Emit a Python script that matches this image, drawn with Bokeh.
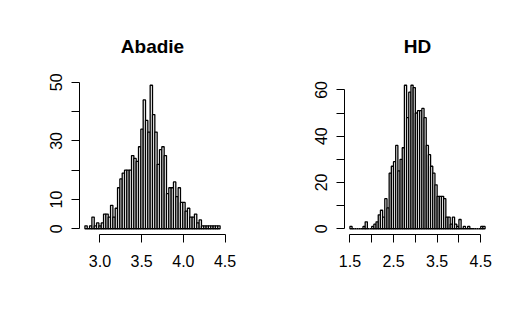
import numpy as np
from bokeh.plotting import figure
from bokeh.layouts import row
from bokeh.models import Range1d, FixedTicker, ColumnDataSource
from bokeh.embed import file_html
from bokeh.resources import INLINE

# ---- data ----
abadie_title = "Abadie"
abadie_lo, abadie_hi = 2.82, 4.44
abadie_counts = [1, 0, 1, 4, 1, 2, 1, 2, 5, 5,
                 4, 8, 4, 7, 14, 17, 19, 20, 20, 20,
                 25, 24, 23, 28, 34, 44, 37, 33, 49, 39,
                 33, 22, 27, 28, 25, 12, 14, 14, 16, 11,
                 14, 9, 9, 6, 7, 4, 4, 5, 2, 3,
                 1, 1, 1, 1, 1, 1, 1, 1]
abadie_xticks = [3.0, 3.5, 4.0, 4.5]
abadie_xlabels = ["3.0", "3.5", "4.0", "4.5"]
abadie_yticks = [0, 10, 20, 30, 40, 50]
abadie_ylabels = ["0", "10", "", "30", "", "50"]

hd_title = "HD"
hd_lo, hd_hi = 1.5, 4.6
hd_counts = [1, 0, 0, 0, 0, 0, 1, 3, 0, 0,
             1, 2, 3, 6, 8, 5, 13, 9, 24, 27,
             29, 36, 25, 30, 35, 62, 48, 59, 62, 61,
             50, 51, 51, 52, 48, 36, 32, 27, 24, 19,
             14, 14, 14, 13, 5, 5, 2, 5, 2, 1,
             4, 0, 1, 0, 1, 0, 0, 0, 0, 0,
             1, 1]
hd_xticks = [1.5, 2.0, 2.5, 3.0, 3.5, 4.0, 4.5]
hd_xlabels = ["1.5", "", "2.5", "", "3.5", "", "4.5"]
hd_yticks = [0, 10, 20, 30, 40, 50, 60]
hd_ylabels = ["0", "", "20", "", "40", "", "60"]

FONT = "Liberation Sans"


def panel(title, lo, hi, counts, xticks, xlabels, yticks, ylabels,
          border_left, border_right):
    counts = np.asarray(counts, dtype=float)
    edges = np.linspace(lo, hi, len(counts) + 1)
    src = ColumnDataSource(dict(left=edges[:-1], right=edges[1:],
                                top=counts, bottom=np.zeros_like(counts)))
    xpad = 0.04 * (hi - lo)
    ymax = counts.max()
    p = figure(frame_width=146, frame_height=155,
               x_range=Range1d(lo - xpad, hi + xpad),
               y_range=Range1d(-0.04 * ymax, 1.04 * ymax),
               output_backend="svg", toolbar_location=None,
               min_border_left=border_left, min_border_right=border_right,
               min_border_top=79, min_border_bottom=82,
               background_fill_color="white", border_fill_color="white")
    p.outline_line_color = None
    p.grid.visible = False
    p.quad(left="left", right="right", top="top", bottom="bottom", source=src,
           fill_color="white", line_color="black", line_width=1.3)

    p.title.text = title
    p.title.align = "center"
    p.title.text_font = FONT
    p.title.text_font_size = "19px"
    p.title.text_font_style = "bold"
    p.title.text_color = "black"
    p.title.standoff = 45

    for ax, ticks, labels in ((p.xaxis[0], xticks, xlabels),
                              (p.yaxis[0], yticks, ylabels)):
        ax.ticker = FixedTicker(ticks=ticks)
        ax.major_label_overrides = {float(t): l for t, l in zip(ticks, labels)}
        ax.bounds = (ticks[0], ticks[-1])
        ax.axis_line_color = "black"
        ax.axis_line_width = 1
        ax.major_tick_line_color = "black"
        ax.major_tick_out = 8
        ax.major_tick_in = 0
        ax.minor_tick_line_color = None
        ax.major_label_text_font = FONT
        ax.major_label_text_font_size = "16px"
        ax.major_label_text_color = "black"
    p.xaxis[0].major_label_standoff = 12
    p.yaxis[0].major_label_orientation = "vertical"
    p.yaxis[0].major_label_standoff = 9
    return p


p1 = panel(abadie_title, abadie_lo, abadie_hi, abadie_counts,
           abadie_xticks, abadie_xlabels, abadie_yticks, abadie_ylabels, 79, 48)
p2 = panel(hd_title, hd_lo, hd_hi, hd_counts,
           hd_xticks, hd_xlabels, hd_yticks, hd_ylabels, 71, 32)

layout = row(p1, p2)
open("out.html", "w").write(file_html(layout, INLINE))
